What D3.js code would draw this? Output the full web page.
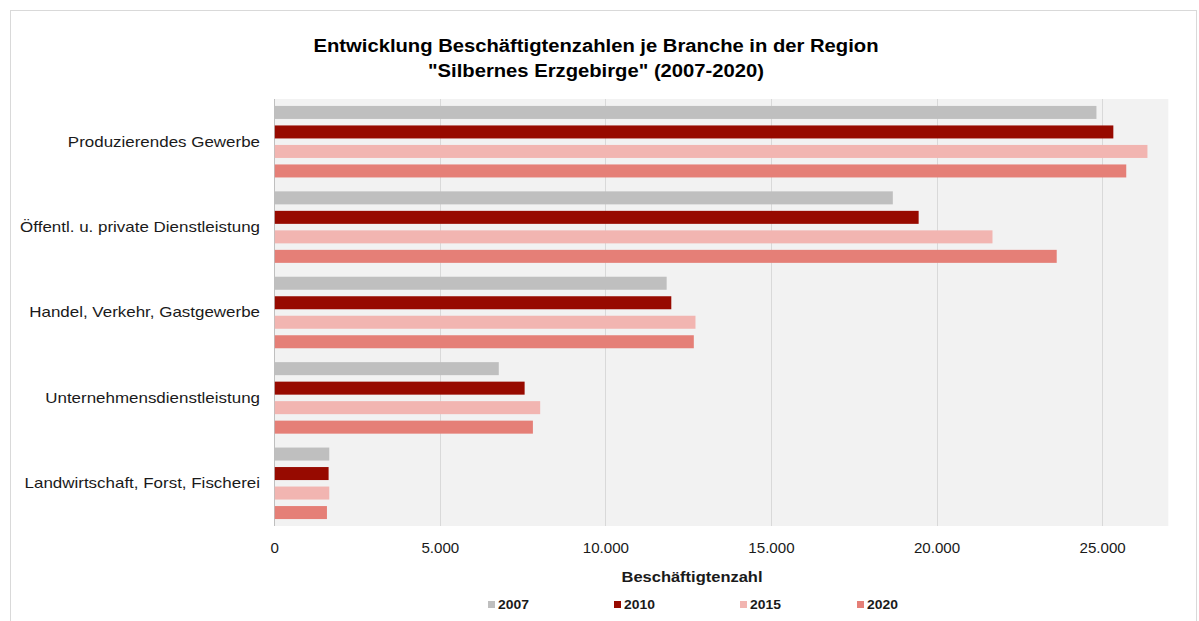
<!DOCTYPE html>
<html>
<head>
<meta charset="utf-8">
<script src="https://cdn.jsdelivr.net/npm/d3@7"></script>
<style>
  body { margin: 0; background: #fff; }
  text { font-family: "Liberation Sans", Arial, sans-serif; }
</style>
</head>
<body>
<script>
	// size of the page
	var w = 1199;
	var h = 621;

	// data
	var branchen = ["Produzierendes Gewerbe", "Öffentl. u. private Dienstleistung",
		"Handel, Verkehr, Gastgewerbe", "Unternehmensdienstleistung",
		"Landwirtschaft, Forst, Fischerei"];
	var jahre = ["2007", "2010", "2015", "2020"];
	var werte2007 = [24830, 18680, 11850, 6780, 1660];
	var werte2010 = [25340, 19460, 11990, 7560, 1640];
	var werte2015 = [26370, 21690, 12720, 8030, 1660];
	var werte2020 = [25730, 23630, 12670, 7810, 1590];
	var ticks = [0, 5000, 10000, 15000, 20000, 25000];
	var farben = ["#BFBFBF", "#970A00", "#F2B5B1", "#E57F77"];

	var reihen = [werte2007, werte2010, werte2015, werte2020];

	var svg = d3.select("body")
		.append("svg")
		.attr("width", w)
		.attr("height", h);

	// outer frame
	svg.append("rect")
		.attr("x", 10.5).attr("y", 10.5)
		.attr("width", 1186).attr("height", 640)
		.attr("fill", "none")
		.attr("stroke", "#D9D9D9");

	// title (text is a bit wider in the original, so stretch it)
	var title = svg.append("text")
		.attr("transform", "translate(596, 0) scale(1.065, 1)")
		.attr("text-anchor", "middle")
		.attr("font-size", "19px")
		.attr("font-weight", "bold")
		.attr("fill", "#000");
	title.append("tspan").attr("x", 0).attr("y", 52)
		.text("Entwicklung Beschäftigtenzahlen je Branche in der Region");
	title.append("tspan").attr("x", 0).attr("y", 77)
		.text("\"Silbernes Erzgebirge\" (2007-2020)");

	// scales
	var xScale = d3.scaleLinear()
		.domain([0, 27000])
		.range([274.3, 1168.3]);

	var yScale = d3.scaleBand()
		.domain(branchen)
		.range([99, 526]);

	var yInner = d3.scaleBand()
		.domain(jahre)
		.range([0, yScale.bandwidth()])
		.paddingInner(0.333)
		.paddingOuter(0.356);

	// plot background
	svg.append("rect")
		.attr("x", xScale(0))
		.attr("y", 99)
		.attr("width", xScale(27000) - xScale(0))
		.attr("height", 526 - 99)
		.attr("fill", "#F2F2F2");

	// grid lines
	svg.append("g")
		.selectAll("line")
		.data(ticks)
		.enter()
		.append("line")
		.attr("x1", function(d) { return Math.round(xScale(d)) + 0.5; })
		.attr("x2", function(d) { return Math.round(xScale(d)) + 0.5; })
		.attr("y1", 99)
		.attr("y2", 526)
		.attr("stroke", function(d) { return d === 0 ? "#BFBFBF" : "#D9D9D9"; })
		.attr("stroke-width", 1);

	// bars
	var gruppen = svg.append("g")
		.selectAll("g")
		.data(reihen)
		.enter()
		.append("g")
		.attr("fill", function(d, i) { return farben[i]; });

	gruppen.each(function(werte, j) {
		d3.select(this).selectAll("rect")
			.data(werte)
			.enter()
			.append("rect")
			.attr("x", xScale(0) + 0.5)
			.attr("y", function(d, i) { return yScale(branchen[i]) + yInner(jahre[j]); })
			.attr("width", function(d) { return xScale(d) - xScale(0) - 0.5; })
			.attr("height", yInner.bandwidth());
	});

	// x axis labels
	var xAxis = d3.axisBottom(xScale)
		.tickValues(ticks)
		.tickSize(0)
		.tickPadding(0)
		.tickFormat(function(d) { return d3.format(",")(d).replace(/,/g, "."); });

	var xGuide = svg.append("g")
		.attr("transform", "translate(0, 540)")
		.call(xAxis);
	xGuide.select(".domain").remove();
	xGuide.selectAll("text")
		.attr("dy", "0.9em")
		.attr("transform", "scale(1.08, 1)")
		.attr("font-size", "14px")
		.attr("font-family", "Liberation Sans, Arial, sans-serif")
		.attr("fill", "#1a1a1a");

	// category labels
	var yAxis = d3.axisLeft(yScale)
		.tickSize(0)
		.tickPadding(0);

	var yGuide = svg.append("g")
		.attr("transform", "translate(260, 0)")
		.call(yAxis);
	yGuide.select(".domain").remove();
	yGuide.selectAll("text")
		.attr("transform", "scale(1.13, 1)")
		.attr("font-size", "15px")
		.attr("font-family", "Liberation Sans, Arial, sans-serif")
		.attr("fill", "#1a1a1a");

	// axis title
	svg.append("text")
		.attr("transform", "translate(692, 582) scale(1.1, 1)")
		.attr("text-anchor", "middle")
		.attr("font-size", "15px")
		.attr("font-weight", "bold")
		.attr("fill", "#1a1a1a")
		.text("Beschäftigtenzahl");

	// legend
	var legendX = [488, 614, 740, 857];
	var legende = svg.append("g")
		.selectAll("g")
		.data(jahre)
		.enter()
		.append("g")
		.attr("transform", function(d, i) { return "translate(" + legendX[i] + ", 609)"; });

	legende.append("rect")
		.attr("x", 0).attr("y", -8)
		.attr("width", 7).attr("height", 7)
		.attr("fill", function(d, i) { return farben[i]; });

	legende.append("text")
		.attr("transform", "translate(10, 0) scale(1.07, 1)")
		.attr("font-size", "13px")
		.attr("font-weight", "bold")
		.attr("fill", "#1a1a1a")
		.text(function(d) { return d; });
</script>
</body>
</html>
